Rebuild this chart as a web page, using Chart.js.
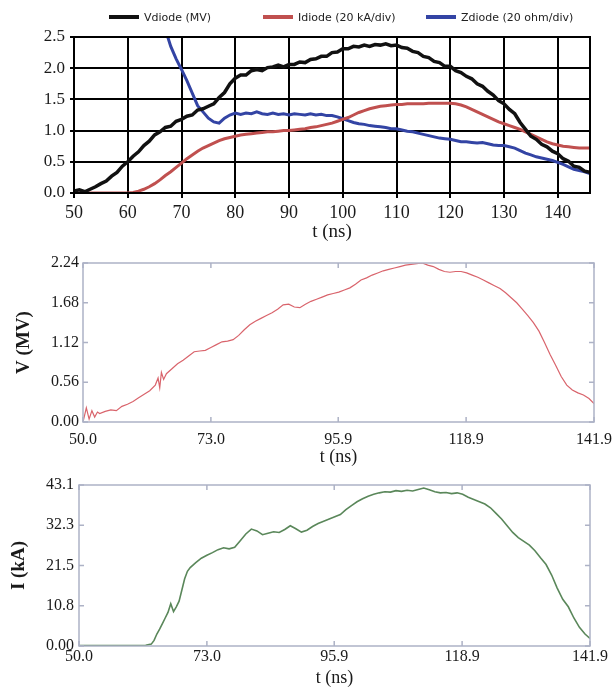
<!DOCTYPE html>
<html><head><meta charset="utf-8">
<script src="https://cdn.jsdelivr.net/npm/chart.js@4.4.0/dist/chart.umd.min.js"></script>
<style>
html,body{margin:0;padding:0;background:#fff;}
body{width:614px;height:689px;position:relative;overflow:hidden;}
canvas{position:absolute;left:0;}
</style></head><body>
<canvas id="c1" width="614" height="245" style="top:0px"></canvas>
<canvas id="c2" width="614" height="225" style="top:245px"></canvas>
<canvas id="c3" width="614" height="227" style="top:462px"></canvas>
<script>
// ---------- TOP PANEL DATA ----------
const topTime = [50,51,52,53,54,55,56,57,58,59,60,61,62,63,64,65,66,67,68,69,70,71,72,73,74,75,76,77,78,79,80,81,82,83,84,85,86,87,88,89,90,91,92,93,94,95,96,97,98,99,100,101,102,103,104,105,106,107,108,109,110,111,112,113,114,115,116,117,118,119,120,121,122,123,124,125,126,127,128,129,130,131,132,133,134,135,136,137,138,139,140,141,142,143,144,145,146];
const vdiode = [0.03,0.05,0.02,0.06,0.10,0.15,0.19,0.27,0.33,0.43,
  0.50,0.59,0.66,0.76,0.83,0.93,0.98,1.05,1.07,1.15,
  1.18,1.23,1.25,1.33,1.35,1.39,1.43,1.53,1.61,1.75,
  1.84,1.89,1.89,1.96,1.98,1.96,2.01,2.02,2.05,2.02,
  2.06,2.06,2.10,2.09,2.14,2.15,2.19,2.19,2.25,2.26,
  2.31,2.31,2.35,2.34,2.37,2.35,2.38,2.37,2.39,2.36,
  2.37,2.33,2.32,2.27,2.25,2.19,2.17,2.11,2.09,2.03,
  2.03,1.96,1.93,1.87,1.83,1.75,1.71,1.63,1.57,1.48,
  1.43,1.34,1.27,1.13,1.02,0.91,0.86,0.78,0.74,0.67,
  0.63,0.55,0.51,0.43,0.41,0.35,0.33];
const idiode = [0,0,0,0,0,0,0,0,0,0,
  0.00,0.01,0.03,0.06,0.10,0.15,0.21,0.28,0.34,0.41,
  0.48,0.55,0.61,0.67,0.72,0.76,0.80,0.84,0.87,0.89,
  0.91,0.93,0.94,0.95,0.96,0.97,0.98,0.98,0.99,1.00,
  1.00,1.01,1.02,1.03,1.05,1.06,1.08,1.10,1.12,1.15,
  1.18,1.21,1.25,1.29,1.32,1.35,1.37,1.39,1.40,1.41,
  1.42,1.42,1.43,1.43,1.43,1.43,1.44,1.44,1.44,1.44,
  1.44,1.43,1.41,1.38,1.34,1.30,1.26,1.22,1.18,1.14,
  1.11,1.08,1.05,1.02,0.98,0.94,0.90,0.86,0.82,0.79,
  0.77,0.75,0.74,0.73,0.72,0.72,0.72];
const zdiode = [null,null,null,null,null,null,null,null,null,null,
  null,null,null,null,3.60,3.20,2.90,2.62,2.35,2.15,
  1.98,1.80,1.60,1.40,1.30,1.20,1.14,1.12,1.20,1.25,
  1.28,1.26,1.28,1.27,1.30,1.27,1.26,1.28,1.26,1.27,
  1.25,1.27,1.26,1.25,1.27,1.25,1.26,1.24,1.24,1.22,
  1.19,1.16,1.13,1.11,1.10,1.08,1.07,1.06,1.05,1.03,
  1.03,1.01,0.99,0.98,0.96,0.94,0.92,0.90,0.88,0.87,
  0.86,0.84,0.82,0.82,0.81,0.80,0.81,0.79,0.77,0.76,
  0.76,0.74,0.72,0.68,0.64,0.61,0.58,0.56,0.54,0.52,
  0.49,0.46,0.42,0.38,0.36,0.34,0.31];
const topXTicks = [50,60,70,80,90,100,110,120,130,140];
const topYTicks = [0,0.5,1.0,1.5,2.0,2.5];
const topYLabels = ['0.0','0.5','1.0','1.5','2.0','2.5'];
const topLegend = ['Vdiode (MV)','Idiode (20 kA/div)','Zdiode (20 ohm/div)'];

// ---------- MIDDLE PANEL DATA ----------
const midTime = [50.0,50.6,51.1,51.6,52.1,52.6,53,54,55,56,57,58,59,60,61,62,63,63.5,63.8,64.1,64.5,65,66,67,68,69,70,71,72,73,74,75,76,77,78,79,80,81,82,83,84,85,86,87,88,89,90,91,92,93,94,95,96,97,98,99,100,101,102,103,104,105,106,107,108,109,110,111,112,113,114,115,116,117,118,119,120,121,122,123,124,125,126,127,128,129,130,131,132,133,134,135,136,137,138,139,140,141,141.9];
const midV = [0.00,0.20,0.04,0.16,0.07,0.14,0.12,0.15,0.17,0.16,0.22,0.25,0.29,0.34,0.39,0.44,0.52,0.62,0.48,0.70,0.60,0.68,
  0.75,0.82,0.87,0.93,0.99,1.00,1.01,1.05,1.09,1.13,1.14,1.16,1.22,1.30,
  1.37,1.42,1.46,1.50,1.54,1.59,1.65,1.66,1.62,1.61,
  1.66,1.70,1.73,1.76,1.79,1.81,1.83,1.86,1.89,1.94,
  2.00,2.03,2.07,2.10,2.13,2.15,2.17,2.19,2.21,2.22,
  2.23,2.24,2.21,2.19,2.15,2.12,2.11,2.12,2.12,2.10,
  2.07,2.04,2.00,1.96,1.92,1.88,1.82,1.75,1.68,1.59,
  1.50,1.40,1.28,1.12,0.95,0.80,0.64,0.52,0.45,0.41,
  0.38,0.33,0.26];
const midXTicks = [50,73,95.9,118.9,141.9];
const midXLabels = ['50.0','73.0','95.9','118.9','141.9'];
const midYTicks = [0,0.56,1.12,1.68,2.24];
const midYLabels = ['0.00','0.56','1.12','1.68','2.24'];

// ---------- BOTTOM PANEL DATA ----------
const botTime = [50,52,54,56,58,60,62,63,63.5,64,64.5,65,65.5,66,66.5,67,67.5,68,68.5,69,69.5,70,71,72,73,74,75,76,77,78,79,80,81,82,83,84,85,86,87,88,89,90,91,92,93,94,95,96,97,98,99,100,101,102,103,104,105,106,107,108,109,110,111,112,113,114,115,116,117,118,119,120,121,122,123,124,125,126,127,128,129,130,131,132,133,134,135,136,137,138,139,140,141,141.9];
const botI = [0.1,0.1,0.15,0.1,0.1,0.15,0.2,0.5,1.5,3.2,4.5,6.0,7.5,9.0,11.3,9.2,10.5,12.0,15.0,18.0,20.0,21.0,
  22.3,23.5,24.3,25.0,25.8,26.3,26.0,26.4,28.2,30.0,
  31.3,30.8,29.8,30.2,30.6,30.4,31.2,32.2,31.4,30.5,
  31.0,32.0,32.8,33.4,34.0,34.6,35.2,36.5,37.6,38.6,
  39.4,40.1,40.6,41.0,41.3,41.2,41.6,41.4,41.7,41.5,
  41.9,42.3,41.8,41.3,41.0,41.1,40.8,41.0,40.6,39.8,
  39.2,38.6,38.0,37.0,35.5,34.0,32.2,30.4,29.0,28.0,
  27.0,25.5,23.6,21.8,19.0,15.5,12.5,10.5,7.5,5.0,3.2,2.0];
const botXTicks = [50,73,95.9,118.9,141.9];
const botXLabels = ['50.0','73.0','95.9','118.9','141.9'];
const botYTicks = [0,10.775,21.55,32.325,43.1];
const botYLabels = ['0.00','10.8','21.5','32.3','43.1'];

// ---------- helpers ----------
const pts = (xs, ys) => xs.map((x, i) => ({x: x, y: ys[i]}));
const SERIF = "'Liberation Serif', 'Times New Roman', serif";
const TXT = '#1a1a1a';

const framePlugin = {
  id: 'frame',
  afterDatasetsDraw(chart, args, opts) {
    const {ctx, chartArea: a, scales} = chart;
    ctx.save();
    ctx.strokeStyle = opts.color;
    ctx.lineWidth = opts.width;
    ctx.strokeRect(a.left, a.top, a.right - a.left, a.bottom - a.top);
    if (opts.innerTicks) {
      const L = opts.innerTicks;
      ctx.beginPath();
      scales.y.ticks.forEach(t => {
        const y = scales.y.getPixelForValue(t.value);
        ctx.moveTo(a.left, y); ctx.lineTo(a.left + L, y);
        ctx.moveTo(a.right, y); ctx.lineTo(a.right - L, y);
      });
      scales.x.ticks.forEach(t => {
        const x = scales.x.getPixelForValue(t.value);
        ctx.moveTo(x, a.bottom); ctx.lineTo(x, a.bottom - L);
        ctx.moveTo(x, a.top); ctx.lineTo(x, a.top + L);
      });
      ctx.stroke();
    }
    ctx.restore();
  }
};

const lineLegend = {
  id: 'lineLegend',
  afterDraw(chart, args, opts) {
    const ctx = chart.ctx;
    ctx.save();
    ctx.font = opts.font;
    ctx.textBaseline = 'middle';
    chart.data.datasets.forEach((ds, i) => {
      const x = opts.x[i];
      ctx.strokeStyle = ds.borderColor;
      ctx.lineWidth = opts.lineWidth;
      ctx.beginPath();
      ctx.moveTo(x, opts.y); ctx.lineTo(x + opts.len, opts.y);
      ctx.stroke();
      ctx.fillStyle = opts.color;
      ctx.fillText(ds.label, x + opts.len + opts.gap, opts.y + 1);
    });
    ctx.restore();
  }
};

function fixedTicks(values) { return s => { s.ticks = values.map(v => ({value: v})); }; }
function labelFrom(values, labels) { return v => { const i = values.findIndex(t => Math.abs(t - v) < 1e-6); return i >= 0 ? labels[i] : ''; }; }

// ---------- TOP CHART ----------
new Chart(document.getElementById('c1'), {
  type: 'line',
  data: {
    datasets: [
      {label: topLegend[0], data: pts(topTime, vdiode), borderColor: '#111111', borderWidth: 3.5, pointRadius: 0, tension: 0},
      {label: topLegend[1], data: pts(topTime, idiode), borderColor: '#c0504f', borderWidth: 3, pointRadius: 0, tension: 0},
      {label: topLegend[2], data: pts(topTime, zdiode), borderColor: '#3344a4', borderWidth: 3, pointRadius: 0, tension: 0, clip: 1}
    ]
  },
  options: {
    responsive: false, animation: false, devicePixelRatio: 1,
    layout: {padding: {top: 37, right: 24, left: 0, bottom: 0}},
    plugins: {
      legend: {display: false}, tooltip: {enabled: false},
      frame: {color: '#000', width: 2},
      lineLegend: {x: [109, 263, 426], y: 17, len: 30, gap: 5, lineWidth: 4, color: '#222', font: "11px 'DejaVu Sans', sans-serif"}
    },
    scales: {
      x: {
        type: 'linear', min: 50, max: 146,
        afterBuildTicks: fixedTicks(topXTicks),
        afterFit: s => { s.height = 52; s.paddingLeft = 0; s.paddingRight = 0; },
        grid: {color: '#000', lineWidth: 2, tickLength: 5, tickColor: '#000'},
        border: {display: true, color: '#000', width: 2},
        ticks: {color: TXT, font: {family: SERIF, size: 18}, padding: 4, maxRotation: 0, autoSkip: false},
        title: {display: true, text: 't (ns)', color: TXT, font: {family: SERIF, size: 19}, padding: {top: 0, bottom: 2}}
      },
      y: {
        type: 'linear', min: 0, max: 2.5,
        afterBuildTicks: fixedTicks(topYTicks),
        afterFit: s => { s.width = 74; s.paddingTop = 0; s.paddingBottom = 0; },
        grid: {color: '#000', lineWidth: 2, tickLength: 4, tickColor: '#000'},
        border: {display: true, color: '#000', width: 2},
        ticks: {color: TXT, font: {family: SERIF, size: 17}, padding: 5, callback: labelFrom(topYTicks, topYLabels)}
      }
    }
  },
  plugins: [framePlugin, lineLegend]
});

// ---------- panel factory for middle / bottom ----------
function panel(id, xs, ys, color, width, xT, xL, yT, yL, yTitle, cfg) {
  new Chart(document.getElementById(id), {
    type: 'line',
    data: {datasets: [{label: yTitle, data: pts(xs, ys), borderColor: color, borderWidth: width, pointRadius: 0, tension: 0}]},
    options: {
      responsive: false, animation: false, devicePixelRatio: 1,
      layout: {padding: {top: cfg.top, right: cfg.right, left: 0, bottom: 0}},
      plugins: {legend: {display: false}, tooltip: {enabled: false},
        frame: {color: '#adb2c6', width: 1.5, innerTicks: 5}},
      scales: {
        x: {
          type: 'linear', min: xT[0], max: xT[xT.length - 1],
          afterBuildTicks: fixedTicks(xT),
          afterFit: s => { s.height = cfg.xh; s.paddingLeft = 0; s.paddingRight = 0; },
          grid: {display: false, drawTicks: false},
          border: {display: false},
          ticks: {color: TXT, font: {family: SERIF, size: 16}, padding: cfg.xpad, maxRotation: 0, autoSkip: false, callback: labelFrom(xT, xL)},
          title: {display: true, text: 't (ns)', color: TXT, font: {family: SERIF, size: 18}, padding: {top: 0, bottom: cfg.tpad}}
        },
        y: {
          type: 'linear', min: 0, max: yT[yT.length - 1],
          afterBuildTicks: fixedTicks(yT),
          afterFit: s => { s.width = cfg.yw; s.paddingTop = 0; s.paddingBottom = 0; },
          grid: {display: false, drawTicks: false},
          border: {display: false},
          ticks: {color: TXT, font: {family: SERIF, size: 16}, padding: cfg.ypad, callback: labelFrom(yT, yL)},
          title: {display: true, text: yTitle, color: TXT, font: {family: SERIF, size: 19, weight: 'bold'}, padding: {top: cfg.ytpad, bottom: 0}}
        }
      }
    },
    plugins: [framePlugin]
  });
}

panel('c2', midTime, midV, '#d9646c', 1.2, midXTicks, midXLabels, midYTicks, midYLabels, 'V (MV)',
  {top: 18, right: 20, xh: 48, yw: 83, xpad: 8, tpad: 2, ypad: 4, ytpad: 13});
panel('c3', botTime, botI, '#5a875a', 1.6, botXTicks, botXLabels, botYTicks, botYLabels, 'I (kA)',
  {top: 23, right: 24, xh: 43, yw: 79, xpad: 1, tpad: 0, ypad: 5, ytpad: 8});
</script>
</body></html>
